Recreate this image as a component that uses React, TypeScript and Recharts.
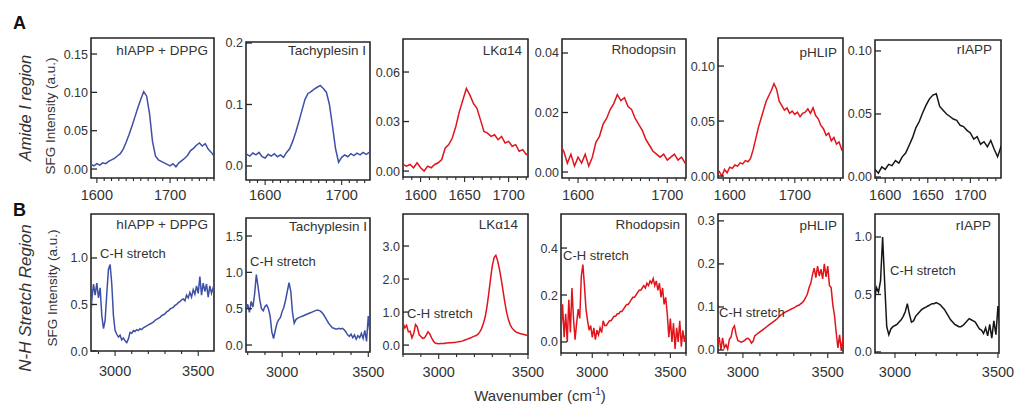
import { LineChart, Line, XAxis, YAxis, ReferenceArea } from "recharts"

// wavenumber grid, amide I region (cm-1)
const amideX = [
  1572, 1576, 1580, 1584, 1588, 1592, 1596, 1600, 1604, 1608,
  1612, 1616, 1620, 1624, 1628, 1632, 1636, 1640, 1644, 1648,
  1652, 1656, 1660, 1664, 1668, 1672, 1676, 1680, 1684, 1688,
  1692, 1696, 1700, 1704, 1708, 1712, 1716, 1720, 1724, 1728,
  1732, 1736, 1740, 1744, 1748, 1752, 1756, 1760, 1764, 1768,
  1772, 1776,
]

const hiappAmide = [
  null, null, null, null, 0.004, 0.006, 0.004, 0.007, 0.005, 0.008,
  0.007, 0.010, 0.012, 0.014, 0.017, 0.020, 0.026, 0.035, 0.045, 0.056,
  0.068, 0.080, 0.091, 0.101, 0.095, 0.072, 0.036, 0.017, 0.012, 0.010,
  0.008, 0.006, 0.004, 0.007, 0.003, 0.008, 0.011, 0.014, 0.018, 0.024,
  0.027, 0.031, 0.034, 0.030, 0.033, 0.026, 0.022, 0.017, 0.014, null,
  null, null,
]
const tachyAmide = [
  0.017, 0.019, 0.016, 0.021, 0.018, 0.022, 0.015, 0.013, 0.019, 0.016,
  0.020, 0.015, 0.018, 0.014, 0.022, 0.028, 0.040, 0.055, 0.072, 0.090,
  0.108, 0.118, 0.121, 0.125, 0.128, 0.131, 0.126, 0.120, 0.100, 0.065,
  0.028, 0.006, 0.014, 0.018, 0.015, 0.020, 0.017, 0.021, 0.018, 0.022,
  0.019, 0.022, 0.020, null, null, null, null, null, null, null,
  null, null,
]
const lkAmide = [
  null, null, 0.004, 0.003, 0.004, 0.002, 0.005, 0.002, 0.000, 0.003,
  0.002, 0.004, 0.005, 0.007, 0.014, 0.016, 0.020, 0.027, 0.036, 0.043,
  0.050, 0.046, 0.041, 0.038, 0.031, 0.024, 0.023, 0.021, 0.022, 0.019,
  0.021, 0.017, 0.018, 0.015, 0.016, 0.012, 0.013, 0.010, 0.011, null,
  null, null, null, null, null, null, null, null, null, null,
  null, null,
]
const rhodAmide = [
  null, null, 0.009, 0.007, 0.003, 0.006, 0.002, 0.005, 0.003, 0.006,
  0.002, 0.005, 0.010, 0.012, 0.016, 0.018, 0.021, 0.023, 0.026, 0.024,
  0.025, 0.022, 0.021, 0.018, 0.016, 0.014, 0.011, 0.009, 0.007, 0.006,
  0.005, 0.006, 0.004, 0.005, 0.006, 0.004, 0.005, 0.003, 0.005, null,
  null, null, null, null, null, null, null, null, null, null,
  null, null,
]
const phlipAmide = [
  null, null, 0.001, 0.004, 0.000, 0.006, 0.003, 0.008, 0.007, 0.010,
  0.009, 0.012, 0.011, 0.014, 0.013, 0.016, 0.024, 0.034, 0.044, 0.052,
  0.060, 0.068, 0.073, 0.078, 0.084, 0.079, 0.068, 0.064, 0.060, 0.062,
  0.057, 0.059, 0.056, 0.058, 0.054, 0.057, 0.058, 0.061, 0.057, 0.062,
  0.055, 0.052, 0.046, 0.043, 0.037, 0.039, 0.032, 0.035, 0.029, 0.031,
  0.024, 0.027,
]
const riappAmide = [
  null, null, null, 0.004, 0.006, 0.003, 0.008, 0.006, 0.010, 0.009,
  0.013, 0.011, 0.016, 0.019, 0.025, 0.031, 0.039, 0.044, 0.051, 0.057,
  0.062, 0.065, 0.066, 0.056, 0.053, 0.050, 0.048, 0.046, 0.045, 0.041,
  0.040, 0.037, 0.035, 0.030, 0.032, 0.026, 0.028, 0.024, 0.029, 0.022,
  0.016, 0.024, 0.020, null, null, null, null, null, null, null,
  null, null,
]

// wavenumber grid, N-H stretch region (cm-1)
const nhX = [
  2790, 2800, 2810, 2820, 2830, 2840, 2850, 2860, 2870, 2880,
  2890, 2900, 2910, 2920, 2930, 2940, 2950, 2960, 2970, 2980,
  2990, 3000, 3010, 3020, 3030, 3040, 3050, 3060, 3070, 3080,
  3090, 3100, 3110, 3120, 3130, 3140, 3150, 3160, 3170, 3180,
  3190, 3200, 3210, 3220, 3230, 3240, 3250, 3260, 3270, 3280,
  3290, 3300, 3310, 3320, 3330, 3340, 3350, 3360, 3370, 3380,
  3390, 3400, 3410, 3420, 3430, 3440, 3450, 3460, 3470, 3480,
  3490, 3500, 3510, 3520, 3530, 3540, 3550, 3560, 3570, 3580,
  3590, 3600,
]

const hiappNH = [
  null, null, null, null, null, null, 0.25, 0.55, 0.72, 0.60,
  0.73, 0.57, 0.68, 0.38, 0.24, 0.33, 0.62, 0.88, 0.93, 0.72,
  0.38, 0.22, 0.18, 0.15, 0.17, 0.12, 0.14, 0.11, 0.09, 0.13,
  0.20, 0.19, 0.22, 0.21, 0.23, 0.22, 0.24, 0.23, 0.25, 0.26,
  0.27, 0.28, 0.29, 0.30, 0.31, 0.33, 0.34, 0.35, 0.36, 0.38,
  0.39, 0.40, 0.42, 0.43, 0.45, 0.46, 0.47, 0.49, 0.50, 0.52,
  0.53, 0.55, 0.56, 0.54, 0.60, 0.57, 0.63, 0.58, 0.66, 0.61,
  0.70, 0.62, 0.80, 0.60, 0.73, 0.64, 0.72, 0.58, 0.70, 0.62,
  0.68, 0.60,
]
const tachyNH = [
  0.48, 0.56, 0.45, 0.60, 0.52, 0.70, 0.97, 0.80, 0.62, 0.50,
  0.47, 0.53, 0.55, 0.50, 0.40, 0.18, 0.09, 0.20, 0.30, 0.35,
  0.38, 0.46, 0.52, 0.62, 0.74, 0.86, 0.74, 0.45, 0.30, 0.35,
  0.37, 0.38, 0.39, 0.40, 0.41, 0.42, 0.43, 0.44, 0.45, 0.46,
  0.47, 0.48, 0.48, 0.47, 0.45, 0.42, 0.38, 0.34, 0.30, 0.27,
  0.24, 0.23, 0.22, 0.22, 0.23, 0.22, 0.23, 0.21, 0.18, 0.14,
  0.12, 0.15, 0.10, 0.14, 0.08, 0.13, 0.10, 0.16, 0.09, 0.20,
  0.05, 0.40, 0.15, null, null, null, null, null, null, null,
  null, null,
]
const lkNH = [
  0.55, 0.68, 0.52, 0.60, 0.40, 0.42, 0.22, 0.35, 0.62, 0.55,
  0.32, 0.26, 0.20, 0.22, 0.30, 0.40, 0.34, 0.22, 0.12, 0.06,
  0.05, 0.04, 0.05, 0.05, 0.05, 0.06, 0.06, 0.07, 0.07, 0.08,
  0.08, 0.09, 0.10, 0.11, 0.12, 0.14, 0.16, 0.18, 0.20, 0.22,
  0.25, 0.27, 0.29, 0.33, 0.40, 0.50, 0.65, 0.85, 1.15, 1.55,
  2.00, 2.40, 2.65, 2.72, 2.55, 2.30, 2.00, 1.65, 1.30, 1.00,
  0.78, 0.62, 0.52, 0.46, 0.41, 0.38, 0.36, 0.34, 0.33, 0.32,
  0.30, 0.30, 0.29, null, null, null, null, null, null, null,
  null, null,
]
const rhodNH = [
  null, 0.05, 0.16, 0.02, 0.12, 0.00, 0.18, 0.04, 0.23, 0.10,
  0.01, 0.08, 0.14, 0.10, 0.28, 0.33, 0.24, 0.14, 0.09, 0.05,
  0.07, 0.02, 0.06, 0.01, 0.05, 0.03, 0.06, 0.04, 0.09, 0.07,
  0.07, 0.08, 0.09, 0.09, 0.10, 0.11, 0.11, 0.12, 0.12, 0.13,
  0.13, 0.14, 0.15, 0.16, 0.16, 0.17, 0.18, 0.19, 0.19, 0.20,
  0.21, 0.22, 0.22, 0.23, 0.24, 0.23, 0.25, 0.24, 0.26, 0.25,
  0.27, 0.24, 0.26, 0.22, 0.25, 0.19, 0.23, 0.16, 0.19, 0.12,
  0.02, 0.10, 0.00, 0.08, -0.03, 0.06, 0.00, 0.09, -0.02, 0.05,
  0.00, 0.04,
]
const phlipNH = [
  null, null, null, null, null, null, 0.010, 0.030, 0.000, 0.028,
  0.005, 0.012, 0.002, 0.025, 0.030, 0.050, 0.056, 0.035, 0.022, 0.020,
  0.018, 0.020, 0.022, 0.026, 0.027, 0.024, 0.016, 0.020, 0.033, 0.036,
  0.039, 0.042, 0.045, 0.048, 0.051, 0.054, 0.057, 0.060, 0.063, 0.066,
  0.069, 0.072, 0.076, 0.080, 0.083, 0.086, 0.088, 0.090, 0.092, 0.094,
  0.096, 0.098, 0.100, 0.103, 0.104, 0.107, 0.110, 0.115, 0.122, 0.130,
  0.145, 0.155, 0.175, 0.190, 0.168, 0.195, 0.172, 0.188, 0.165, 0.200,
  0.170, 0.195, 0.150, 0.145, 0.105, 0.080, 0.040, 0.005, 0.035, -0.002,
  0.030, null,
]
const riappNH = [
  null, null, null, null, null, null, null, null, null, null,
  null, 0.45, 0.56, 0.52, 0.62, 1.00, 0.60, 0.22, 0.15, 0.20,
  0.22, 0.23, 0.24, 0.26, 0.28, 0.31, 0.35, 0.42, 0.33, 0.26,
  0.27, 0.31, 0.33, 0.35, 0.37, 0.38, 0.39, 0.40, 0.41, 0.42,
  0.42, 0.43, 0.42, 0.41, 0.39, 0.37, 0.34, 0.31, 0.28, 0.26,
  0.24, 0.23, 0.22, 0.22, 0.23, 0.25, 0.27, 0.29, 0.28, 0.27,
  0.26, 0.23, 0.20, 0.19, 0.16, 0.21, 0.14, 0.24, 0.12, 0.27,
  0.15, 0.40, 0.20, null, null, null, null, null, null, null,
  null, null,
]

// axis ticks
const amideMinor = [
  1580, 1590, 1600, 1610, 1620, 1630, 1640, 1650, 1660, 1670,
  1680, 1690, 1700, 1710, 1720, 1730, 1740, 1750, 1760, 1770,
]
const amideLabels = [1600, 1700]
const amideLabelsFine = [1600, 1650, 1700]
const nhMinor = [2800, 2900, 3000, 3100, 3200, 3300, 3400, 3500, 3600]
const nhLabels = [3000, 3500]

const names = ["hIAPP + DPPG", "Tachyplesin I", "LKα14", "Rhodopsin", "pHLIP", "rIAPP"]

const BLUE = "#3e50a6"
const RED = "#e1141b"
const BLACK = "#161616"
const AXIS = "#262626"
const TEXT = "#333"
const FONT = "'Liberation Sans', Arial, sans-serif"

type Panel = {
  xs: number[]
  ys: (number | null)[]
  left: number
  top: number
  right: number
  bottom: number
  xDomain: [number, number]
  yDomain: [number, number]
  yTicks: number[]
  dec: number
  minor: number[]
  labels: number[]
  labelDy: number
  color: string
  title: string
  titleRight: number
  titleY: number
  ch?: { x: number; y: number }
}

const panels: Panel[] = [
  { xs: amideX, ys: hiappAmide, left: 91, top: 38, right: 214, bottom: 178, xDomain: [1592, 1760], yDomain: [-0.0117, 0.1709], yTicks: [0, 0.05, 0.1, 0.15], dec: 2, minor: amideMinor, labels: amideLabels, labelDy: 22, color: BLUE, title: names[0], titleRight: 208, titleY: 51 },
  { xs: amideX, ys: tachyAmide, left: 246, top: 42, right: 370, bottom: 180, xDomain: [1575, 1737], yDomain: [-0.0228, 0.2016], yTicks: [0, 0.1, 0.2], dec: 1, minor: amideMinor, labels: amideLabels, labelDy: 20, color: BLUE, title: names[1], titleRight: 366, titleY: 51 },
  { xs: amideX, ys: lkAmide, left: 403, top: 39, right: 528, bottom: 177, xDomain: [1580, 1722], yDomain: [-0.0036, 0.08], yTicks: [0, 0.03, 0.06], dec: 2, minor: amideMinor, labels: amideLabelsFine, labelDy: 23, color: RED, title: names[2], titleRight: 522, titleY: 51 },
  { xs: amideX, ys: rhodAmide, left: 562, top: 39, right: 686, bottom: 178, xDomain: [1582, 1721], yDomain: [-0.002, 0.0447], yTicks: [0, 0.02, 0.04], dec: 2, minor: amideMinor, labels: amideLabels, labelDy: 22, color: RED, title: names[3], titleRight: 676, titleY: 50 },
  { xs: amideX, ys: phlipAmide, left: 718, top: 38, right: 843, bottom: 178, xDomain: [1582, 1774], yDomain: [-0.0018, 0.1255], yTicks: [0, 0.05, 0.1], dec: 2, minor: amideMinor, labels: amideLabels, labelDy: 22, color: RED, title: names[4], titleRight: 837, titleY: 53 },
  { xs: amideX, ys: riappAmide, left: 875, top: 40, right: 1001, bottom: 178, xDomain: [1588, 1736], yDomain: [-0.0008, 0.1087], yTicks: [0, 0.05, 0.1], dec: 2, minor: amideMinor, labels: amideLabelsFine, labelDy: 22, color: BLACK, title: names[5], titleRight: 992, titleY: 50 },

  { xs: nhX, ys: hiappNH, left: 91, top: 214, right: 214, bottom: 351, xDomain: [2855, 3595], yDomain: [0, 1.473], yTicks: [0, 0.5, 1], dec: 1, minor: nhMinor, labels: nhLabels, labelDy: 25, color: BLUE, title: names[0], titleRight: 208, titleY: 225, ch: { x: 100, y: 254 } },
  { xs: nhX, ys: tachyNH, left: 246, top: 218, right: 370, bottom: 352, xDomain: [2790, 3510], yDomain: [-0.096, 1.748], yTicks: [0, 0.5, 1, 1.5], dec: 1, minor: nhMinor, labels: nhLabels, labelDy: 25, color: BLUE, title: names[1], titleRight: 367, titleY: 227, ch: { x: 250, y: 262 } },
  { xs: nhX, ys: lkNH, left: 403, top: 214, right: 528, bottom: 354, xDomain: [2800, 3500], yDomain: [-0.27, 3.97], yTicks: [0, 1, 2, 3], dec: 1, minor: nhMinor, labels: nhLabels, labelDy: 23, color: RED, title: names[2], titleRight: 518, titleY: 225, ch: { x: 407, y: 314 } },
  { xs: nhX, ys: rhodNH, left: 561, top: 214, right: 686, bottom: 353, xDomain: [2800, 3600], yDomain: [-0.047, 0.545], yTicks: [0, 0.2, 0.4], dec: 1, minor: nhMinor, labels: nhLabels, labelDy: 24, color: RED, title: names[3], titleRight: 680, titleY: 225, ch: { x: 563, y: 256 } },
  { xs: nhX, ys: phlipNH, left: 718, top: 214, right: 843, bottom: 353, xDomain: [2853, 3590], yDomain: [-0.007, 0.316], yTicks: [0, 0.1, 0.2, 0.3], dec: 1, minor: nhMinor, labels: nhLabels, labelDy: 24, color: RED, title: names[4], titleRight: 837, titleY: 226, ch: { x: 719, y: 313 } },
  { xs: nhX, ys: riappNH, left: 875, top: 214, right: 999, bottom: 353, xDomain: [2903, 3505], yDomain: [-0.009, 1.2], yTicks: [0, 0.5, 1], dec: 1, minor: nhMinor, labels: nhLabels, labelDy: 24, color: BLACK, title: names[5], titleRight: 991, titleY: 226, ch: { x: 890, y: 271 } },
]

const YW = 45
const XH = 30
const PAD_T = 10
const PAD_R = 26

function makeXTick(labels: number[], dy: number) {
  return (props: any) => {
    const { x, y, payload } = props
    const major = labels.includes(payload.value)
    return (
      <g>
        <line x1={x} x2={x} y1={y} y2={y + (major ? 5 : 3)} stroke={AXIS} strokeWidth={1.1} />
        {major ? (
          <text x={x} y={y + dy} textAnchor="middle" fontSize={14.5} fill={TEXT} fontFamily={FONT}>
            {payload.value}
          </text>
        ) : null}
      </g>
    )
  }
}

function makeYTick(dec: number) {
  return (props: any) => {
    const { x, y, payload } = props
    return (
      <g>
        <line x1={x} x2={x + 6} y1={y} y2={y} stroke={AXIS} strokeWidth={1.3} />
        <text x={x - 3} y={y + 4.5} textAnchor="end" fontSize={12.5} fill={TEXT} fontFamily={FONT}>
          {payload.value.toFixed(dec)}
        </text>
      </g>
    )
  }
}

function SpectrumPanel({ p }: { p: Panel }) {
  const data = p.xs.map((x, i) => ({ x, y: p.ys[i] }))
  const w = p.right - p.left
  const h = p.bottom - p.top
  const ticks = p.minor.filter((t) => t >= p.xDomain[0] && t <= p.xDomain[1])
  return (
    <div style={{ position: "absolute", left: p.left - YW, top: p.top - PAD_T }}>
      <LineChart
        width={YW + w + PAD_R}
        height={PAD_T + h + XH}
        data={data}
        margin={{ top: PAD_T, right: PAD_R, bottom: 0, left: 0 }}
      >
        <XAxis
          dataKey="x"
          type="number"
          domain={p.xDomain}
          allowDataOverflow
          ticks={ticks}
          interval={0}
          height={XH}
          tickLine={false}
          tickSize={0}
          tickMargin={0}
          tick={makeXTick(p.labels, p.labelDy)}
          axisLine={false}
        />
        <YAxis
          type="number"
          domain={p.yDomain}
          allowDataOverflow
          ticks={p.yTicks}
          interval={0}
          width={YW}
          tickLine={false}
          tickSize={0}
          tickMargin={0}
          tick={makeYTick(p.dec)}
          axisLine={false}
        />
        <Line dataKey="y" stroke={p.color} strokeWidth={1.5} dot={false} isAnimationActive={false} />
        <ReferenceArea
          x1={p.xDomain[0]}
          x2={p.xDomain[1]}
          y1={p.yDomain[0]}
          y2={p.yDomain[1]}
          fill="none"
          fillOpacity={0}
          stroke={AXIS}
          strokeWidth={1.6}
          ifOverflow="visible"
        />
      </LineChart>
    </div>
  )
}

const abs = (extra: React.CSSProperties): React.CSSProperties => ({
  position: "absolute",
  whiteSpace: "nowrap",
  fontFamily: FONT,
  color: TEXT,
  lineHeight: 1,
  ...extra,
})

function Rotated({ text, x, y, size, italic }: { text: string; x: number; y: number; size: number; italic?: boolean }) {
  return (
    <div
      style={abs({
        left: x,
        top: y,
        fontSize: size,
        fontStyle: italic ? "italic" : "normal",
        transform: "translate(-50%, -50%) rotate(-90deg)",
      })}
    >
      {text}
    </div>
  )
}

export default function App() {
  return (
    <div style={{ position: "absolute", left: 0, top: 0, width: 1024, height: 414, background: "#fff", overflow: "hidden" }}>
      {panels.map((p, i) => (
        <SpectrumPanel key={i} p={p} />
      ))}
      {panels.map((p, i) => (
        <div key={"t" + i} style={abs({ right: 1024 - p.titleRight, top: p.titleY - 7, fontSize: 13.5 })}>
          {p.title}
        </div>
      ))}
      {panels.map((p, i) =>
        p.ch ? (
          <div key={"c" + i} style={abs({ left: p.ch.x, top: p.ch.y - 7, fontSize: 13 })}>
            C-H stretch
          </div>
        ) : null
      )}
      <div style={abs({ left: 13, top: 14, fontSize: 18, fontWeight: "bold", color: "#111" })}>A</div>
      <div style={abs({ left: 13, top: 201, fontSize: 18, fontWeight: "bold", color: "#111" })}>B</div>
      <Rotated text="Amide I region" x={25} y={108} size={16.5} italic />
      <Rotated text="N-H Stretch Region" x={25} y={298} size={17} italic />
      <Rotated text="SFG Intensity (a.u.)" x={51} y={116} size={13.5} />
      <Rotated text="SFG Intensity (a.u.)" x={53} y={288} size={13.5} />
      <div style={abs({ left: 540, top: 395, fontSize: 15, transform: "translate(-50%, -50%)" })}>
        Wavenumber (cm<sup style={{ fontSize: 10, verticalAlign: "6px" }}>-1</sup>)
      </div>
    </div>
  )
}
